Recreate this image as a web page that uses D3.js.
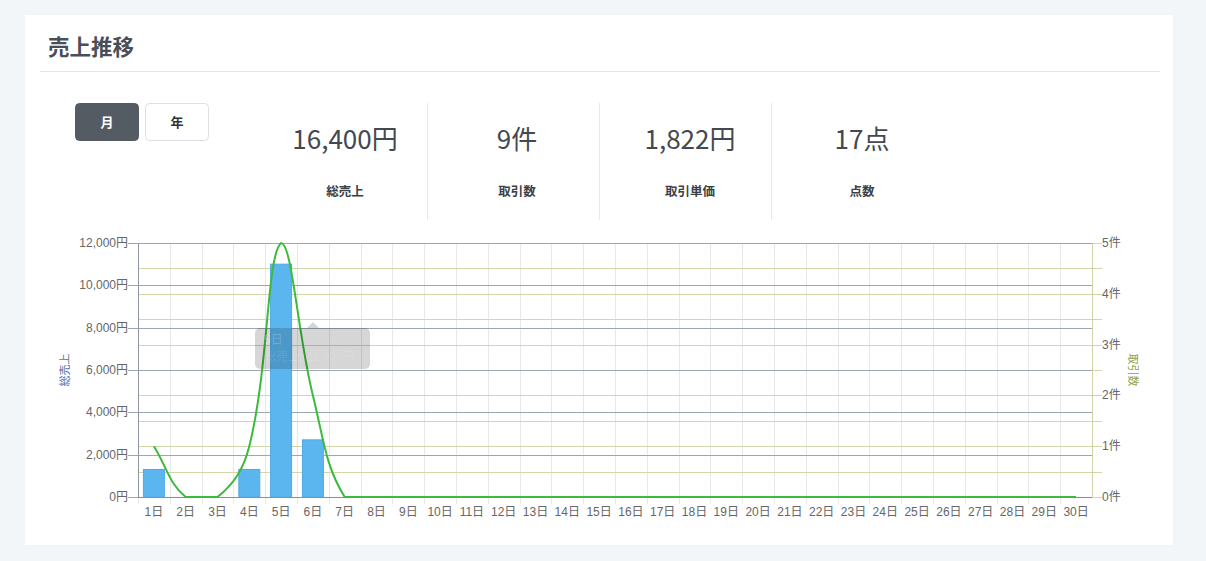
<!DOCTYPE html>
<html><head><meta charset="utf-8">
<script src="https://cdn.jsdelivr.net/npm/d3@7"></script>
<style>
html,body{margin:0;padding:0;background:#f3f6f9;}
svg{display:block;}
</style></head>
<body>
<svg id="c" width="1206" height="561"></svg>
<script>
const days = d3.range(1,31).map(d => d + "日");
const sales = [1300,0,0,1300,11000,2700,0,0,0,0,0,0,0,0,0,0,0,0,0,0,0,0,0,0,0,0,0,0,0,0];
const counts = [1,0,0,1,5,2,0,0,0,0,0,0,0,0,0,0,0,0,0,0,0,0,0,0,0,0,0,0,0,0];
const salesTicks = [0,2000,4000,6000,8000,10000,12000];
const countTicks = [0,1,2,3,4,5];
const countMinor = [0,0.5,1,1.5,2,2.5,3,3.5,4,4.5,5];
const statValues = ["16,400円","9件","1,822円","17点"];
const statLabels = ["総売上","取引数","取引単価","点数"];
const title = "売上推移";
const buttons = ["月","年"];
const tooltipLines = ["5日","総売上: 11,000円"];

const svg = d3.select("#c");
const JP = "'Noto Sans CJK JP', 'Noto Sans', sans-serif";
const AX = "'Liberation Sans', Arial, 'Noto Sans CJK JP', sans-serif";

// card
svg.append("rect").attr("x",25).attr("y",15).attr("width",1148).attr("height",530).attr("fill","#fff");
svg.append("text").attr("x",48).attr("y",55).text(title)
  .attr("font-family",JP).attr("font-weight",700).attr("font-size",21.5).attr("fill","#4a4e58");
svg.append("line").attr("x1",40).attr("x2",1160).attr("y1",71.5).attr("y2",71.5).attr("stroke","#e4e6e9");

// buttons
const bx = [75,145];
buttons.forEach((b,i)=>{
  svg.append("rect").attr("x",bx[i]+0.5).attr("y",103.5).attr("width",63).attr("height",37).attr("rx",4)
    .attr("fill", i===0 ? "#545b63" : "#fff").attr("stroke", i===0 ? "#545b63" : "#dcdfe3");
  svg.append("text").attr("x",bx[i]+32).attr("y",127).attr("text-anchor","middle").text(b)
    .attr("font-family",JP).attr("font-weight",700).attr("font-size",13).attr("fill", i===0?"#fff":"#333");
});

// stats
const statX = [345,517,690,862];
statValues.forEach((v,i)=>{
  svg.append("text").attr("x",statX[i]).attr("y",149).attr("text-anchor","middle").text(v)
    .attr("font-family",JP).attr("font-weight",400).attr("font-size",26).attr("fill","#444850");
  svg.append("text").attr("x",statX[i]).attr("y",196).attr("text-anchor","middle").text(statLabels[i])
    .attr("font-family",JP).attr("font-weight",700).attr("font-size",12.5).attr("fill","#3d4047");
});
[427.5,599.5,771.5].forEach(x=>{
  svg.append("line").attr("x1",x).attr("x2",x).attr("y1",103).attr("y2",220).attr("stroke","#e6e8eb");
});

// chart
const L = 138, R = 1092, T = 243, B = 497;
const x = d3.scaleBand().domain(days).range([L,R]).paddingInner(0).paddingOuter(0);
const yL = d3.scaleLinear().domain([0,12000]).range([B,T]);
const yR = d3.scaleLinear().domain([0,5]).range([B,T]);
const g = svg.append("g");

// vertical grid
days.forEach((d,i)=>{
  if(i===0) return;
  g.append("line").attr("x1",Math.round(x(d))+0.5).attr("x2",Math.round(x(d))+0.5).attr("y1",T).attr("y2",B+7)
    .attr("stroke","#e8e8e8");
});
g.append("line").attr("x1",L+0.5).attr("x2",L+0.5).attr("y1",B).attr("y2",B+7).attr("stroke","#e8e8e8");
// right grid (olive)
countMinor.forEach(v=>{
  const yy = Math.round(yR(v))+0.5;
  g.append("line").attr("x1",L).attr("x2",R+10).attr("y1",yy).attr("y2",yy).attr("stroke","#d3d6a8");
});
// left grid
salesTicks.forEach(v=>{
  const yy = Math.round(yL(v))+0.5;
  g.append("line").attr("x1",L-10).attr("x2",R).attr("y1",yy).attr("y2",yy).attr("stroke","#9ba7b7");
});
// axes lines
g.append("line").attr("x1",L+0.5).attr("x2",L+0.5).attr("y1",T).attr("y2",B).attr("stroke","#8d96a2");
g.append("line").attr("x1",R+0.5).attr("x2",R+0.5).attr("y1",T).attr("y2",B).attr("stroke","#cfd2a6");
g.append("line").attr("x1",L).attr("x2",R).attr("y1",B+0.5).attr("y2",B+0.5).attr("stroke","#8d8d8d");

// tick labels
salesTicks.forEach(v=>{
  g.append("text").attr("x",L-10).attr("y",yL(v)+4).attr("text-anchor","end")
    .text(d3.format(",")(v)+"円").attr("font-family",AX).attr("font-size",12).attr("fill","#666");
});
countTicks.forEach(v=>{
  g.append("text").attr("x",R+10).attr("y",yR(v)+4).attr("text-anchor","start")
    .text(v+"件").attr("font-family",AX).attr("font-size",12).attr("fill","#666");
});
days.forEach(d=>{
  g.append("text").attr("x",x(d)+x.bandwidth()/2).attr("y",516).attr("text-anchor","middle")
    .text(d).attr("font-family",AX).attr("font-size",12).attr("fill","#666");
});
// axis titles
g.append("text").attr("transform","translate(69,370) rotate(-90)").attr("text-anchor","middle")
  .text("総売上").attr("font-family",JP).attr("font-size",11).attr("fill","#4f72a8");
g.append("text").attr("transform","translate(1129,370) rotate(90)").attr("text-anchor","middle")
  .text("取引数").attr("font-family",JP).attr("font-size",11).attr("fill","#8fa343");

// bars
const bw = x.bandwidth()*0.66;
g.selectAll("rect.bar").data(sales).enter().append("rect").attr("class","bar")
  .attr("x",(d,i)=>x(days[i])+(x.bandwidth()-bw)/2).attr("width",bw)
  .attr("y",d=>yL(d)).attr("height",d=>B-yL(d))
  .attr("fill","#5bb6f0").attr("stroke","#4ea9e6").attr("stroke-width",1);

// Chart.js-like bezier line with tension 0.4 and capped control points
const pts = counts.map((c,i)=>({x:x(days[i])+x.bandwidth()/2, y:yR(c)}));
const t = 0.4;
pts.forEach((p,i)=>{
  const prev = pts[i-1] || p, next = pts[i+1] || p;
  const d01 = Math.hypot(p.x-prev.x,p.y-prev.y), d12 = Math.hypot(next.x-p.x,next.y-p.y);
  let s01 = d01/(d01+d12), s12 = d12/(d01+d12);
  if(isNaN(s01)) s01=0; if(isNaN(s12)) s12=0;
  const fa = t*s01, fb = t*s12;
  p.c1x = p.x - fa*(next.x-prev.x); p.c1y = p.y - fa*(next.y-prev.y);
  p.c2x = p.x + fb*(next.x-prev.x); p.c2y = p.y + fb*(next.y-prev.y);
  p.c1y = Math.max(T, Math.min(B, p.c1y)); p.c2y = Math.max(T, Math.min(B, p.c2y));
  p.c1x = Math.max(L, Math.min(R, p.c1x)); p.c2x = Math.max(L, Math.min(R, p.c2x));
});
const path = d3.path();
path.moveTo(pts[0].x, pts[0].y);
for(let i=1;i<pts.length;i++){
  const a=pts[i-1], b=pts[i];
  path.bezierCurveTo(a.c2x,a.c2y,b.c1x,b.c1y,b.x,b.y);
}
g.append("path").attr("d",path.toString()).attr("fill","none").attr("stroke","#3cba3c").attr("stroke-width",2);

// fading tooltip
const tip = g.append("g");
tip.append("rect").attr("x",255).attr("y",328).attr("width",115).attr("height",41).attr("rx",5)
  .attr("fill","rgba(0,0,0,0.16)");
tip.append("path").attr("d","M307,328 L313,322 L319,328 Z").attr("fill","rgba(0,0,0,0.16)");
tip.append("text").attr("x",264).attr("y",344).text(tooltipLines[0]).attr("font-family",AX)
  .attr("font-size",12).attr("fill","rgba(255,255,255,0.2)");
tip.append("text").attr("x",264).attr("y",361).text(tooltipLines[1]).attr("font-family",AX)
  .attr("font-size",12).attr("fill","rgba(255,255,255,0.12)");
</script>
</body></html>
